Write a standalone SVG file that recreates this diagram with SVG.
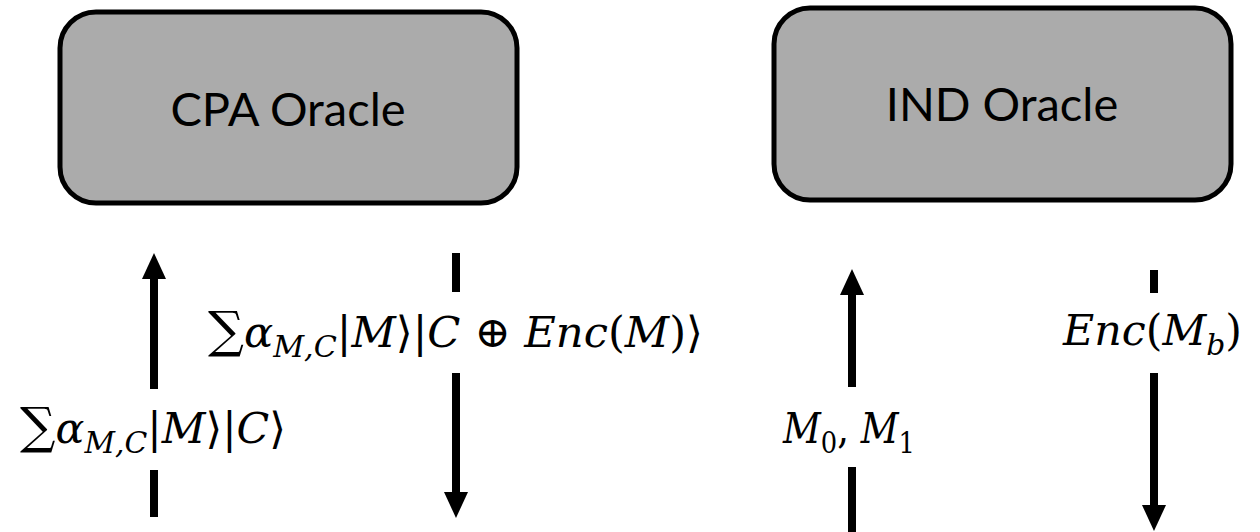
<svg xmlns="http://www.w3.org/2000/svg" width="1260" height="532" viewBox="0 0 1260 532">
  <style>
    .box { fill: #ababab; stroke: #000; stroke-width: 5; }
    .title { font-family: Lato, "Open Sans", sans-serif; font-size: 47px; fill: #000; text-anchor: middle; }
    .math { font-family: "DejaVu Serif", "Liberation Serif", serif; font-size: 43px; font-style: italic; fill: #000; }
    .up { font-style: normal; }
    .sum { font-style: normal; font-size: 50px; }
    .sub { font-size: 30px; }
    .wire { stroke: #000; stroke-width: 8; fill: none; }
    .head { fill: #000; }
  </style>
  <rect width="1260" height="532" fill="#fff"/>

  <g id="cpa-oracle">
    <rect class="box" x="60" y="12" width="457" height="191" rx="36" ry="36"/>
    <text class="title" x="288" y="126">CPA Oracle</text>
  </g>

  <g id="ind-oracle">
    <rect class="box" x="774" y="8" width="457" height="192" rx="36" ry="36"/>
    <text class="title" x="1002" y="121">IND Oracle</text>
  </g>

  <g id="connectors">
    <!-- CPA query: upward -->
    <line class="wire" x1="154" y1="517" x2="154" y2="470"/>
    <line class="wire" x1="154" y1="389" x2="154" y2="276"/>
    <polygon class="head" points="154,253 166,279 142,279"/>
    <!-- CPA answer: downward -->
    <line class="wire" x1="456" y1="253" x2="456" y2="292"/>
    <line class="wire" x1="456" y1="373" x2="456" y2="495"/>
    <polygon class="head" points="456,518 444,492 468,492"/>
    <!-- IND query: upward -->
    <line class="wire" x1="852" y1="532" x2="852" y2="467"/>
    <line class="wire" x1="852" y1="387" x2="852" y2="292"/>
    <polygon class="head" points="852,269 864,295 840,295"/>
    <!-- IND answer: downward -->
    <line class="wire" x1="1154" y1="270" x2="1154" y2="293"/>
    <line class="wire" x1="1154" y1="373" x2="1154" y2="508"/>
    <polygon class="head" points="1154,531 1142,505 1166,505"/>
  </g>

  <g id="labels">
    <text class="math" x="20" y="443" textLength="266" lengthAdjust="spacingAndGlyphs"><tspan class="sum">∑</tspan>α<tspan class="sub" dy="10">M,C</tspan><tspan class="up" dy="-10">|</tspan>M<tspan class="up">⟩|</tspan>C<tspan class="up">⟩</tspan></text>
    <text class="math" x="208" y="347" textLength="495" lengthAdjust="spacingAndGlyphs"><tspan class="sum">∑</tspan>α<tspan class="sub" dy="10">M,C</tspan><tspan class="up" dy="-10">|</tspan>M<tspan class="up">⟩|</tspan>C<tspan class="up"> ⊕ </tspan>Enc<tspan class="up">(</tspan>M<tspan class="up">)⟩</tspan></text>
    <text class="math" x="783" y="443" textLength="132" lengthAdjust="spacingAndGlyphs">M<tspan class="sub up" dy="10">0</tspan><tspan class="up" dy="-10">,</tspan> M<tspan class="sub up" dy="10">1</tspan></text>
    <text class="math" x="1063" y="345" textLength="179" lengthAdjust="spacingAndGlyphs">Enc<tspan class="up">(</tspan>M<tspan class="sub" dy="10">b</tspan><tspan class="up" dy="-10">)</tspan></text>
  </g>
</svg>
